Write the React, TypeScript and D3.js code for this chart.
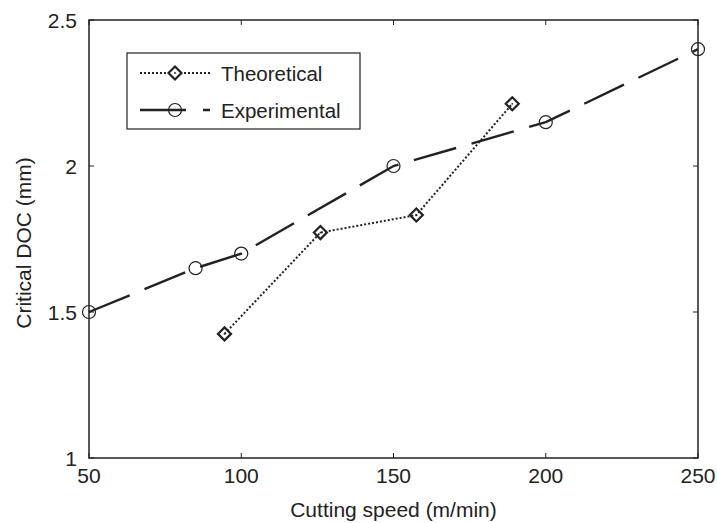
import React from "react";
import * as d3 from "d3";

const expSpeed = [50, 85, 100, 150, 200, 250];
const expDoc = [1.5, 1.65, 1.7, 2.0, 2.15, 2.4];
const theoSpeed = [94.5, 126, 157.5, 189];
const theoDoc = [1.425, 1.772, 1.832, 2.213];
const xTicks = [50, 100, 150, 200, 250];
const yTicks = [1, 1.5, 2, 2.5];
const xTitle = "Cutting speed (m/min)";
const yTitle = "Critical DOC (mm)";
const legendLabels = ["Theoretical", "Experimental"];

const W = 717, H = 523;
const L = 89, R = 698, T = 20, B = 458;
const FONT = "'Liberation Sans', Arial, Helvetica, sans-serif";

export default function App() {
  const x = d3.scaleLinear().domain([50, 250]).range([L, R]);
  const y = d3.scaleLinear().domain([1, 2.5]).range([B, T]);
  const line = d3.line<[number, number]>().x(d => x(d[0])).y(d => y(d[1]));
  const exp = expSpeed.map((s, i) => [s, expDoc[i]] as [number, number]);
  const theo = theoSpeed.map((s, i) => [s, theoDoc[i]] as [number, number]);
  const diamond = (cx: number, cy: number, r = 6.5) =>
    `M${cx},${cy - r}L${cx + r},${cy}L${cx},${cy + r}L${cx - r},${cy}Z`;
  const tk = 5;
  return (
    <svg width={W} height={H} style={{ position: "absolute", left: 0, top: 0 }} fontFamily={FONT}>
      <rect width={W} height={H} fill="#fff" />
      <rect x={L} y={T} width={R - L} height={B - T} fill="none" stroke="#222" strokeWidth={1.5} />
      {xTicks.map(t => (
        <g key={"x" + t}>
          <line x1={x(t)} x2={x(t)} y1={B} y2={B - tk} stroke="#222" />
          <line x1={x(t)} x2={x(t)} y1={T} y2={T + tk} stroke="#222" />
          <text x={x(t)} y={483} fontSize={21} textAnchor="middle" fill="#222">{t}</text>
        </g>
      ))}
      {yTicks.map(t => (
        <g key={"y" + t}>
          <line x1={L} x2={L + tk} y1={y(t)} y2={y(t)} stroke="#222" />
          <line x1={R} x2={R - tk} y1={y(t)} y2={y(t)} stroke="#222" />
          <text x={77} y={y(t) + 7.5} fontSize={21} textAnchor="end" fill="#222">{t}</text>
        </g>
      ))}
      <text x={(L + R) / 2} y={517} fontSize={21} textAnchor="middle" fill="#222">{xTitle}</text>
      <text transform={`translate(31,243) rotate(-90)`} fontSize={21} textAnchor="middle" fill="#222">{yTitle}</text>
      <path d={line(exp) || ""} fill="none" stroke="#222" strokeWidth={2.4} strokeDasharray="44,16" />
      {exp.map((d, i) => (
        <circle key={"c" + i} cx={x(d[0])} cy={y(d[1])} r={6.5} fill="none" stroke="#222" strokeWidth={1.2} />
      ))}
      <path d={line(theo) || ""} fill="none" stroke="#222" strokeWidth={2} strokeDasharray="2,2" />
      {theo.map((d, i) => (
        <g key={"d" + i}>
          <path d={diamond(x(d[0]), y(d[1]))} fill="none" stroke="#222" strokeWidth={2.2} />
          <circle cx={x(d[0])} cy={y(d[1])} r={0.9} fill="#222" />
        </g>
      ))}
      <rect x={127} y={53} width={233} height={76} fill="#fff" stroke="#222" strokeWidth={1.2} />
      <line x1={140} x2={210} y1={73} y2={73} stroke="#222" strokeWidth={2} strokeDasharray="2,2" />
      <path d={diamond(175, 73)} fill="#fff" stroke="#222" strokeWidth={2.2} />
      <circle cx={175} cy={73} r={0.9} fill="#222" />
      <text x={221} y={80.5} fontSize={20.5} fill="#222">{legendLabels[0]}</text>
      <line x1={140} x2={210} y1={110} y2={110} stroke="#222" strokeWidth={2.4} strokeDasharray="46,17" />
      <circle cx={175} cy={110} r={6.5} fill="none" stroke="#222" strokeWidth={1.2} />
      <text x={221} y={117.5} fontSize={20.5} fill="#222">{legendLabels[1]}</text>
    </svg>
  );
}
